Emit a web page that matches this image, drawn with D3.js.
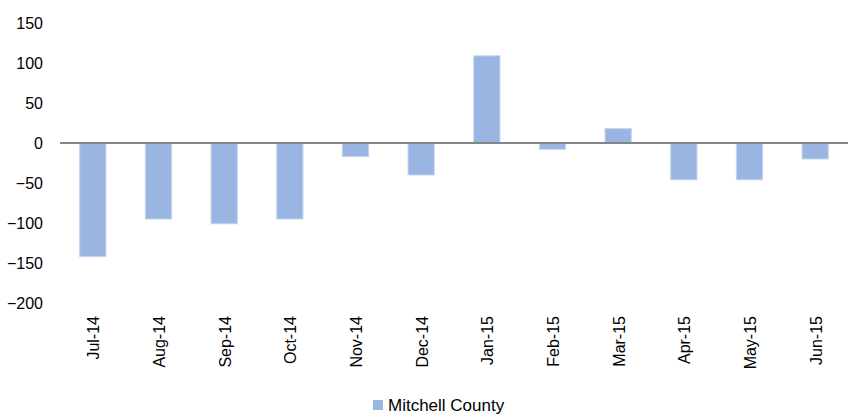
<!DOCTYPE html>
<html>
<head>
<meta charset="utf-8">
<script src="https://cdn.jsdelivr.net/npm/d3@7"></script>
<style>
    body { margin: 0; background: #fff; }
    #chart { width: 851px; height: 414px; }
    text { font-family: "Liberation Sans", Arial, sans-serif; fill: #000; }
</style>
</head>
<body>
<div id="chart"></div>
<script>
var months = ['Jul-14', 'Aug-14', 'Sep-14', 'Oct-14', 'Nov-14', 'Dec-14',
    'Jan-15', 'Feb-15', 'Mar-15', 'Apr-15', 'May-15', 'Jun-15'];
var values = [-142, -95, -101, -95, -17, -40, 109, -8, 18, -46, -46, -20];
var yTicks = [150, 100, 50, 0, -50, -100, -150, -200];
var seriesName = 'Mitchell County';

var width = 851;
var height = 414;

var margin = {
    top: 23,
    bottom: 111,
    left: 60,
    right: 3
}

var svg = d3.select('#chart')
    .append('svg')
    .attr('width', width)
    .attr('height', height);

var w = width - margin.left - margin.right;
var h = height - margin.top - margin.bottom;

var g = svg.append('g')
    .attr('transform', 'translate(' + margin.left + ',' + margin.top + ')');

var x_scale = d3.scaleBand()
    .domain(months)
    .range([0, w])
    .paddingInner(0.6)
    .paddingOuter(0.3);

var y_scale = d3.scaleLinear()
    .domain([-200, 150])
    .range([h, 0]);

// y axis labels only
var y_axis = d3.axisLeft(y_scale)
    .tickValues(yTicks)
    .tickSize(0)
    .tickPadding(17);

g.append('g')
    .attr('class', 'y axis')
    .call(y_axis)
    .call(function (s) { s.select('.domain').remove(); })
    .selectAll('text')
    .style('font-size', '16px');

// bars
g.selectAll('.bar')
    .data(values)
    .enter()
    .append('rect')
    .attr('class', 'bar')
    .attr('x', function (d, i) { return x_scale(months[i]); })
    .attr('width', x_scale.bandwidth())
    .attr('y', function (d) { return y_scale(Math.max(0, d)); })
    .attr('height', function (d) { return Math.abs(y_scale(d) - y_scale(0)); })
    .attr('fill', '#9BB5E3')
    .attr('stroke', '#C5D5F1')
    .attr('stroke-width', 1);

// zero line
g.append('line')
    .attr('x1', 0)
    .attr('x2', w)
    .attr('y1', y_scale(0))
    .attr('y2', y_scale(0))
    .attr('stroke', '#868686')
    .attr('stroke-width', 2);

// x axis labels at bottom, rotated
var x_axis = d3.axisBottom(x_scale)
    .tickSize(0)
    .tickPadding(0);

var xg = g.append('g')
    .attr('class', 'x axis')
    .attr('transform', 'translate(0,' + h + ')')
    .call(x_axis);
xg.select('.domain').remove();
xg.selectAll('text')
    .style('font-size', '16px')
    .attr('text-anchor', 'end')
    .attr('transform', 'rotate(-90)')
    .attr('x', -13)
    .attr('y', 1)
    .attr('dy', '0.35em');

// legend
var legend = svg.append('g')
    .attr('transform', 'translate(373,400)');
legend.append('rect')
    .attr('width', 10)
    .attr('height', 10)
    .attr('fill', '#9BB5E3');
legend.append('text')
    .attr('x', 15)
    .attr('y', 11)
    .style('font-size', '17px')
    .text(seriesName);
</script>
</body>
</html>
